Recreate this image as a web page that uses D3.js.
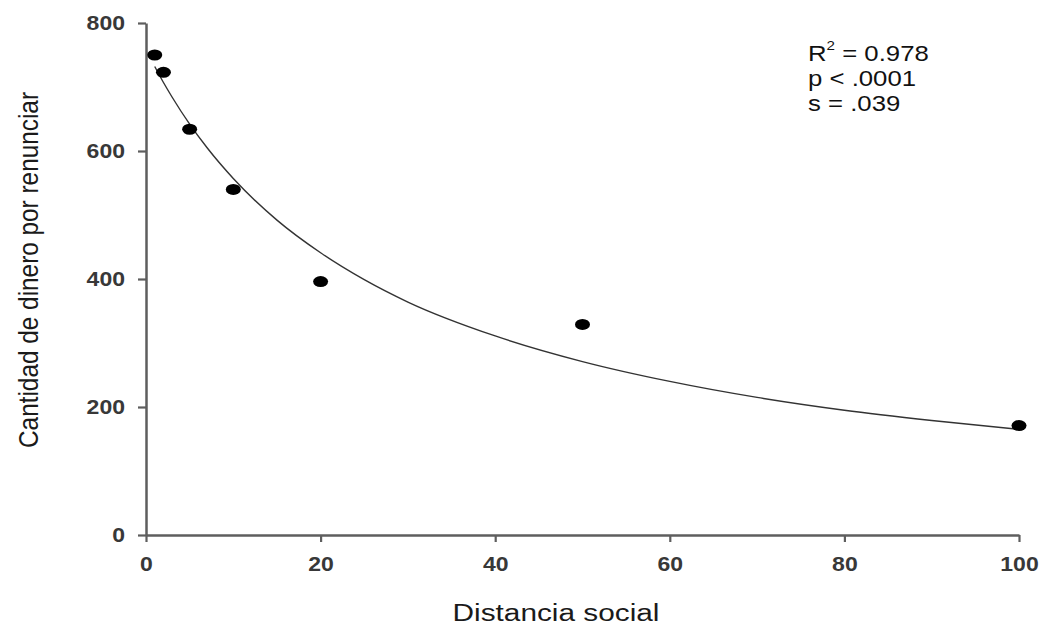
<!DOCTYPE html>
<html>
<head>
<meta charset="utf-8">
<script src="https://cdnjs.cloudflare.com/ajax/libs/d3/7.8.5/d3.min.js"></script>
<style>
  body { margin: 0; background: #fff; }
  svg { display: block; }
</style>
</head>
<body>
<div id="container"></div>
<script>
const W = 1040, H = 626;

// observed points (distancia social, cantidad)
var distancias = [1, 2, 5, 10, 20, 50, 100];
var cantidades = [750, 723, 634, 540, 396, 329, 171];

// fitted curve
var curvaX = [1, 2, 3, 5, 7, 10, 15, 20, 25, 30, 40, 50, 60, 70, 80, 90, 100];
var curvaY = [732, 707, 684, 642, 605, 557, 492, 441, 399, 364, 311, 271, 240, 215, 195, 179, 165];

var xTicks = [0, 20, 40, 60, 80, 100];
var yTicks = [0, 200, 400, 600, 800];

var stats = [
  { pre: "R", sup: "2", post: "= 0.978" },
  { pre: "p < .0001" },
  { pre: "s = .039" }
];

var margin = {top: 23, right: 21, bottom: 91, left: 146};

var x = d3.scaleLinear()
  .domain([0, 100])
  .range([margin.left, W - margin.right]);

var y = d3.scaleLinear()
  .domain([0, 800])
  .range([H - margin.bottom, margin.top]);

var svg = d3.select("#container").append("svg")
  .attr("width", W)
  .attr("height", H);

var axisColor = "#5e5e5e";
var labelColor = "#383838";
var font = "Arial, 'Liberation Sans', sans-serif";

// axes
var gx = svg.append("g")
  .attr("transform", "translate(0," + y(0) + ")")
  .call(d3.axisBottom(x).tickValues(xTicks).tickSize(7).tickSizeOuter(0).tickPadding(15));

var gy = svg.append("g")
  .attr("transform", "translate(" + x(0) + ",0)")
  .call(d3.axisLeft(y).tickValues(yTicks).tickSize(8).tickSizeOuter(0).tickPadding(13));

[gx, gy].forEach(g => {
  g.select(".domain").attr("stroke", axisColor).attr("stroke-width", 2.5);
  g.selectAll(".tick line").attr("stroke", axisColor).attr("stroke-width", 2.2);
  g.selectAll(".tick text")
    .attr("fill", labelColor)
    .style("font-family", font)
    .style("font-size", "19.5px")
    .style("font-weight", "bold")
    .attr("textLength", d => String(d).length * 12.8)
    .attr("lengthAdjust", "spacingAndGlyphs");
});

// fitted curve
var line = d3.line()
  .x((d, i) => x(curvaX[i]))
  .y(d => y(d))
  .curve(d3.curveMonotoneX);

svg.append("path")
  .attr("d", line(curvaY))
  .attr("fill", "none")
  .attr("stroke", "#333")
  .attr("stroke-width", 1.4);

// points
svg.selectAll(".dot")
  .data(cantidades)
  .enter().append("ellipse")
  .attr("class", "dot")
  .attr("cx", (d, i) => x(distancias[i]))
  .attr("cy", d => y(d))
  .attr("rx", 7.5)
  .attr("ry", 5.5)
  .attr("fill", "#000");

// axis titles
svg.append("text")
  .attr("x", 556)
  .attr("y", 621)
  .attr("text-anchor", "middle")
  .attr("fill", "#1a1a1a")
  .style("font-family", font)
  .style("font-size", "23px")
  .attr("textLength", 207)
  .attr("lengthAdjust", "spacingAndGlyphs")
  .text("Distancia social");

svg.append("text")
  .attr("transform", "translate(38,270) rotate(-90) scale(1,1.2)")
  .attr("text-anchor", "middle")
  .attr("fill", "#1a1a1a")
  .style("font-family", font)
  .style("font-size", "23px")
  .attr("textLength", 356)
  .attr("lengthAdjust", "spacingAndGlyphs")
  .text("Cantidad de dinero por renunciar");

// fit statistics
var st = svg.append("g")
  .attr("transform", "translate(808,0) scale(1.17,1)")
  .style("font-family", font)
  .style("font-size", "22px")
  .attr("fill", "#111");

stats.forEach((s, i) => {
  var t = st.append("text")
    .attr("x", 0)
    .attr("y", 61 + i * 25);
  t.append("tspan").text(s.pre);
  if (s.sup) {
    t.append("tspan").attr("dy", -11).style("font-size", "13px").text(s.sup);
    t.append("tspan").attr("dy", 11).text(" " + s.post);
  }
});
</script>
</body>
</html>
